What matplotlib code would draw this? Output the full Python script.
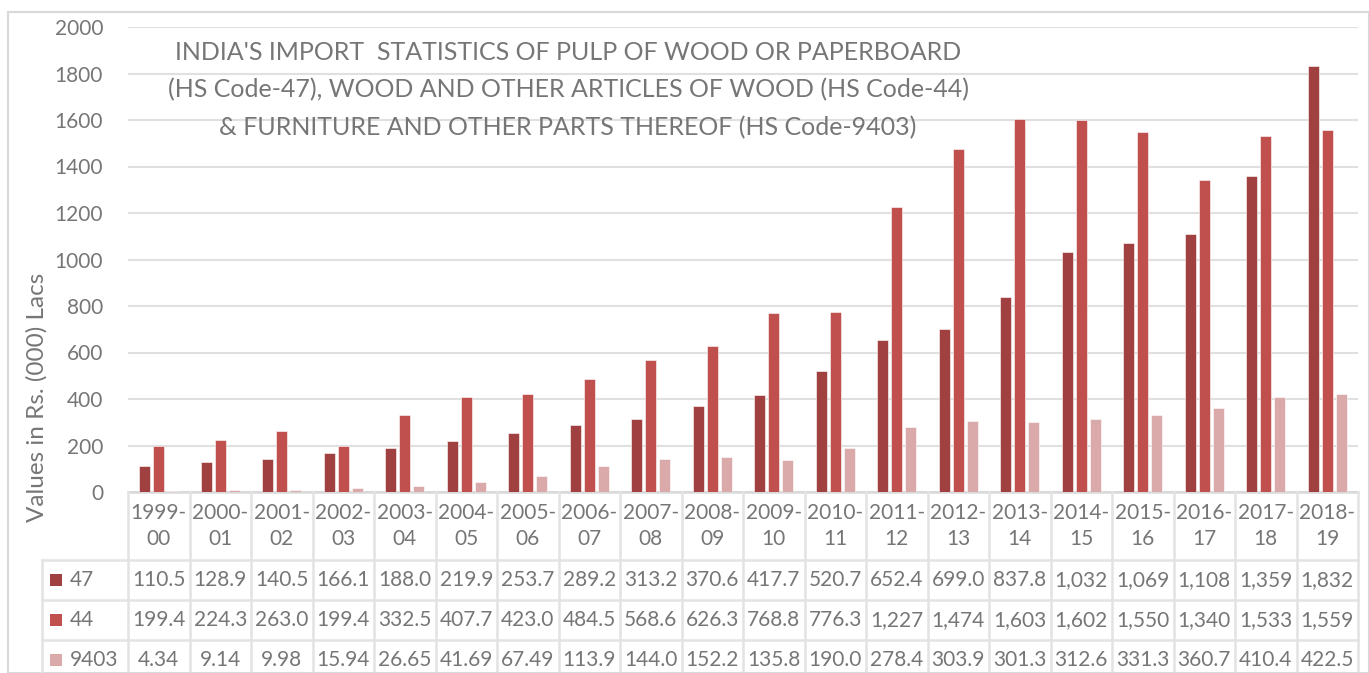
import matplotlib.pyplot as plt
import matplotlib.transforms as mtransforms
from matplotlib.patches import Rectangle
import numpy as np

plt.rcParams['font.family'] = ['Lato', 'DejaVu Sans']

years = ['1999-\n00', '2000-\n01', '2001-\n02', '2002-\n03', '2003-\n04', '2004-\n05', '2005-\n06',
         '2006-\n07', '2007-\n08', '2008-\n09', '2009-\n10', '2010-\n11', '2011-\n12', '2012-\n13',
         '2013-\n14', '2014-\n15', '2015-\n16', '2016-\n17', '2017-\n18', '2018-\n19']
hs47 = [110.5, 128.9, 140.5, 166.1, 188.0, 219.9, 253.7, 289.2, 313.2, 370.6, 417.7, 520.7,
        652.4, 699.0, 837.8, 1032, 1069, 1108, 1359, 1832]
hs44 = [199.4, 224.3, 263.0, 199.4, 332.5, 407.7, 423.0, 484.5, 568.6, 626.3, 768.8, 776.3,
        1227, 1474, 1603, 1602, 1550, 1340, 1533, 1559]
hs9403 = [4.34, 9.14, 9.98, 15.94, 26.65, 41.69, 67.49, 113.9, 144.0, 152.2, 135.8, 190.0,
          278.4, 303.9, 301.3, 312.6, 331.3, 360.7, 410.4, 422.5]
labels47 = ['110.5', '128.9', '140.5', '166.1', '188.0', '219.9', '253.7', '289.2', '313.2', '370.6',
            '417.7', '520.7', '652.4', '699.0', '837.8', '1,032', '1,069', '1,108', '1,359', '1,832']
labels44 = ['199.4', '224.3', '263.0', '199.4', '332.5', '407.7', '423.0', '484.5', '568.6', '626.3',
            '768.8', '776.3', '1,227', '1,474', '1,603', '1,602', '1,550', '1,340', '1,533', '1,559']
labels9403 = ['4.34', '9.14', '9.98', '15.94', '26.65', '41.69', '67.49', '113.9', '144.0', '152.2',
              '135.8', '190.0', '278.4', '303.9', '301.3', '312.6', '331.3', '360.7', '410.4', '422.5']
title_lines = ["INDIA'S IMPORT  STATISTICS OF PULP OF WOOD OR PAPERBOARD",
               "(HS Code-47), WOOD AND OTHER ARTICLES OF WOOD (HS Code-44)",
               "& FURNITURE AND OTHER PARTS THEREOF (HS Code-9403)"]

series = [('47', hs47, labels47, '#A04040'),
          ('44', hs44, labels44, '#C0504D'),
          ('9403', hs9403, labels9403, '#DAA9AA')]

W, H = 1369, 673
fig = plt.figure(figsize=(W / 100, H / 100), dpi=100)
ax = fig.add_axes([128 / W, 1 - 492 / H, (1358 - 128) / W, (492 - 27) / H])

txt = '#767676'
grid = '#E0E0E0'
fs = 15

x = np.arange(len(years))
offsets = [-0.228, 0, 0.228]
for (name, vals, _, col), off in zip(series, offsets):
    ax.bar(x + off, vals, width=0.185, color=col, edgecolor='white', linewidth=0.4, zorder=3)

ax.set_xlim(-0.5, len(years) - 0.5)
ax.set_ylim(0, 2000)
ax.set_yticks(range(0, 2001, 200))
ax.set_xticks([])
ax.yaxis.grid(True, color=grid, linewidth=1.5, zorder=0)
for s in ax.spines.values():
    s.set_visible(False)
ax.tick_params(axis='y', length=0, pad=18, labelsize=fs, labelcolor=txt)


def fy(px):
    return 1 - px / H


# title inside the plot area
for line, py in zip(title_lines, [52, 90, 128]):
    fig.text(568 / W, fy(py), line, ha='center', va='center', fontsize=18, color=txt)

fig.text(37 / W, fy(397), 'Values in Rs. (000) Lacs', rotation=90, ha='center', va='center',
         fontsize=17.5, color=txt)

# data table drawn below the axis
bt = mtransforms.blended_transform_factory(ax.transData, fig.transFigure)
ft = fig.transFigure
lc = '#E3E3E3'
lw = 1.8

ax.plot([-0.5, len(years) - 0.5], [fy(492)] * 2, transform=bt, color='#D9D9D9', lw=lw, clip_on=False)
for b in np.arange(-0.5, len(years), 1.0):
    ax.plot([b, b], [fy(492), 0], transform=bt, color=lc, lw=lw, clip_on=False)
for yy in [560, 600, 640]:
    fig.add_artist(plt.Line2D([42 / W, 1358 / W], [fy(yy)] * 2, transform=ft, color=lc, lw=lw))
fig.add_artist(plt.Line2D([42 / W, 42 / W], [fy(560), 0], transform=ft, color=lc, lw=lw))

for i, lab in enumerate(years):
    ax.text(i, fy(526), lab, transform=bt, ha='center', va='center', fontsize=fs, color=txt,
            linespacing=1.35)

row_y = [580, 620, 660]
for (name, vals, labs, col), ry in zip(series, row_y):
    fig.add_artist(Rectangle((50 / W, fy(ry + 6)), 12 / W, 12 / H, transform=ft,
                             facecolor=col, edgecolor='none'))
    fig.text(70 / W, fy(ry), name, ha='left', va='center', fontsize=fs, color=txt)
    for i, l in enumerate(labs):
        ax.text(i, fy(ry), l, transform=bt, ha='center', va='center', fontsize=fs, color=txt)

# chart border
fig.add_artist(Rectangle((8 / W, 0), (W - 8) / W, fy(12), transform=ft, facecolor='none',
                         edgecolor='#D9D9D9', lw=1.5))

fig.savefig('out.png', dpi=100)
